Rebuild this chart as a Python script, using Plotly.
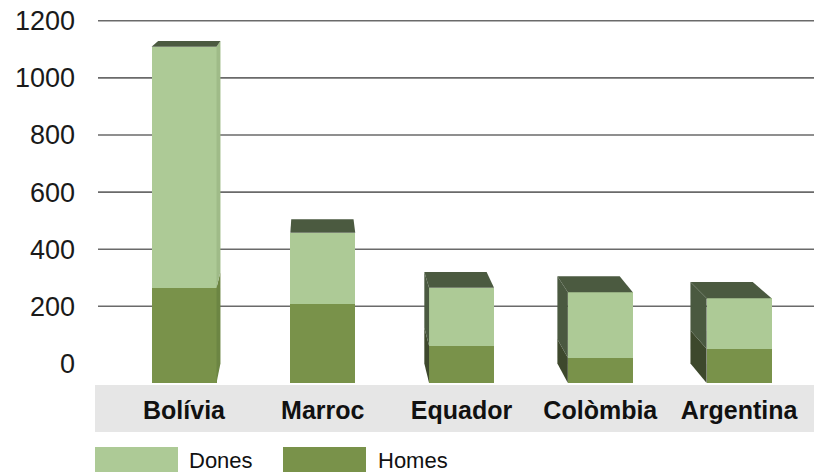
import plotly.graph_objects as go

# ---- data ----
countries = ["Bolívia", "Marroc", "Equador", "Colòmbia", "Argentina"]
homes = [320, 265, 125, 85, 115]
dones = [810, 240, 195, 220, 170]
y_ticks = [0, 200, 400, 600, 800, 1000, 1200]
series_names = ["Dones", "Homes"]

# ---- styles / geometry ----
DONES_C = "#adca96"
HOMES_C = "#79924a"
TOP_C = "#4b5a40"
SIDE_L = {"Dones": "#4a5940", "Homes": "#3d482c"}
SIDE_R = {"Dones": "#9fbb88", "Homes": "#6c8543"}
GRID_C = "#6a6a6a"
BAND_C = "#e6e6e6"

W, H = 814, 475
ML, MR, MT, MB = 98, 0, 15, 92
PW, PH = W - ML - MR, H - MT - MB

X_RANGE = [-0.62, 4.54]
BAR_W = 0.468
Y2_RANGE = [0, 1236.6]        # front-face scale (bars)
Y_RANGE = [-68.65, 1220.3]    # back-wall scale (labels, grid)
VX, VY, S = 0.93, 1606.0, 0.959  # perspective vanishing point / depth scale


def px_x(p):
    return (p - ML) / PW


def px_y(q):
    return (H - MB - q) / PH


def back(x, y):
    return VX + S * (x - VX), VY + S * (y - VY)


fig = go.Figure()
fig.add_trace(go.Bar(x=countries, y=homes, name=series_names[1], marker_color=HOMES_C,
                     marker_line_width=0, width=BAR_W, yaxis="y2"))
fig.add_trace(go.Bar(x=countries, y=dones, name=series_names[0], marker_color=DONES_C,
                     marker_line_width=0, width=BAR_W, yaxis="y2"))

shapes = []
# gray category band
shapes.append(dict(type="rect", xref="paper", yref="paper", x0=px_x(95), x1=1,
                   y0=px_y(385), y1=px_y(432), fillcolor=BAND_C, line_width=0, layer="below"))
# grid lines on back wall
for t in y_ticks:
    if t > 0:
        shapes.append(dict(type="line", xref="paper", yref="y", x0=0, x1=1, y0=t, y1=t,
                           line=dict(color=GRID_C, width=1.6), layer="below"))


def poly(pts, color):
    d = "M " + " L ".join(f"{x:.4f},{y:.3f}" for x, y in pts) + " Z"
    return dict(type="path", xref="x", yref="y2", path=d, fillcolor=color,
                line_width=0, layer="above")


for i, c in enumerate(countries):
    xl, xr = i - BAR_W / 2, i + BAR_W / 2
    segs = [(0, homes[i], "Homes"), (homes[i], homes[i] + dones[i], "Dones")]
    top = homes[i] + dones[i]
    # side faces
    if xr < VX:
        edge, cols = xr, SIDE_R
    elif xl > VX:
        edge, cols = xl, SIDE_L
    else:
        edge = None
    if edge is not None:
        for v0, v1, nm in segs:
            shapes.append(poly([(edge, v0), (edge, v1), back(edge, v1), back(edge, v0)], cols[nm]))
    # top face
    shapes.append(poly([(xl, top), (xr, top), back(xr, top), back(xl, top)], TOP_C))

# custom legend
leg = [(series_names[0], DONES_C, 95, 178, 187), (series_names[1], HOMES_C, 283, 366, 376)]
annotations = []
for nm, col, a, b, tx in leg:
    shapes.append(dict(type="rect", xref="paper", yref="paper", x0=px_x(a), x1=px_x(b),
                       y0=px_y(447), y1=px_y(472), fillcolor=col, line_width=0))
    annotations.append(dict(text=nm, xref="paper", yref="paper", x=px_x(tx), y=px_y(460),
                            xanchor="left", yanchor="middle", showarrow=False,
                            font=dict(family="Liberation Sans, Arial", size=22, color="#111")))

fig.update_layout(
    width=W, height=H,
    margin=dict(l=ML, r=MR, t=MT, b=MB, pad=0),
    paper_bgcolor="white", plot_bgcolor="rgba(0,0,0,0)",
    barmode="stack", bargap=0, showlegend=False,
    shapes=shapes, annotations=annotations,
    xaxis=dict(type="category", range=X_RANGE, showgrid=False, zeroline=False, showline=False,
               ticks="", ticklabelstandoff=10,
               tickfont=dict(family="Liberation Sans Narrow, Arial Narrow, Liberation Sans, Arial",
                             size=25, color="#111", weight="bold")),
    yaxis=dict(range=Y_RANGE, tickvals=y_ticks, showgrid=False, zeroline=False, showline=False,
               ticks="", ticklabelstandoff=22,
               tickfont=dict(family="Liberation Sans, Arial", size=27, color="#1a1a1a")),
    yaxis2=dict(range=Y2_RANGE, overlaying="y", visible=False, showgrid=False, zeroline=False),
)

fig.write_html("out.html", config={"displayModeBar": False},
               post_script="document.body.style.margin='0';document.body.style.overflow='hidden';")
